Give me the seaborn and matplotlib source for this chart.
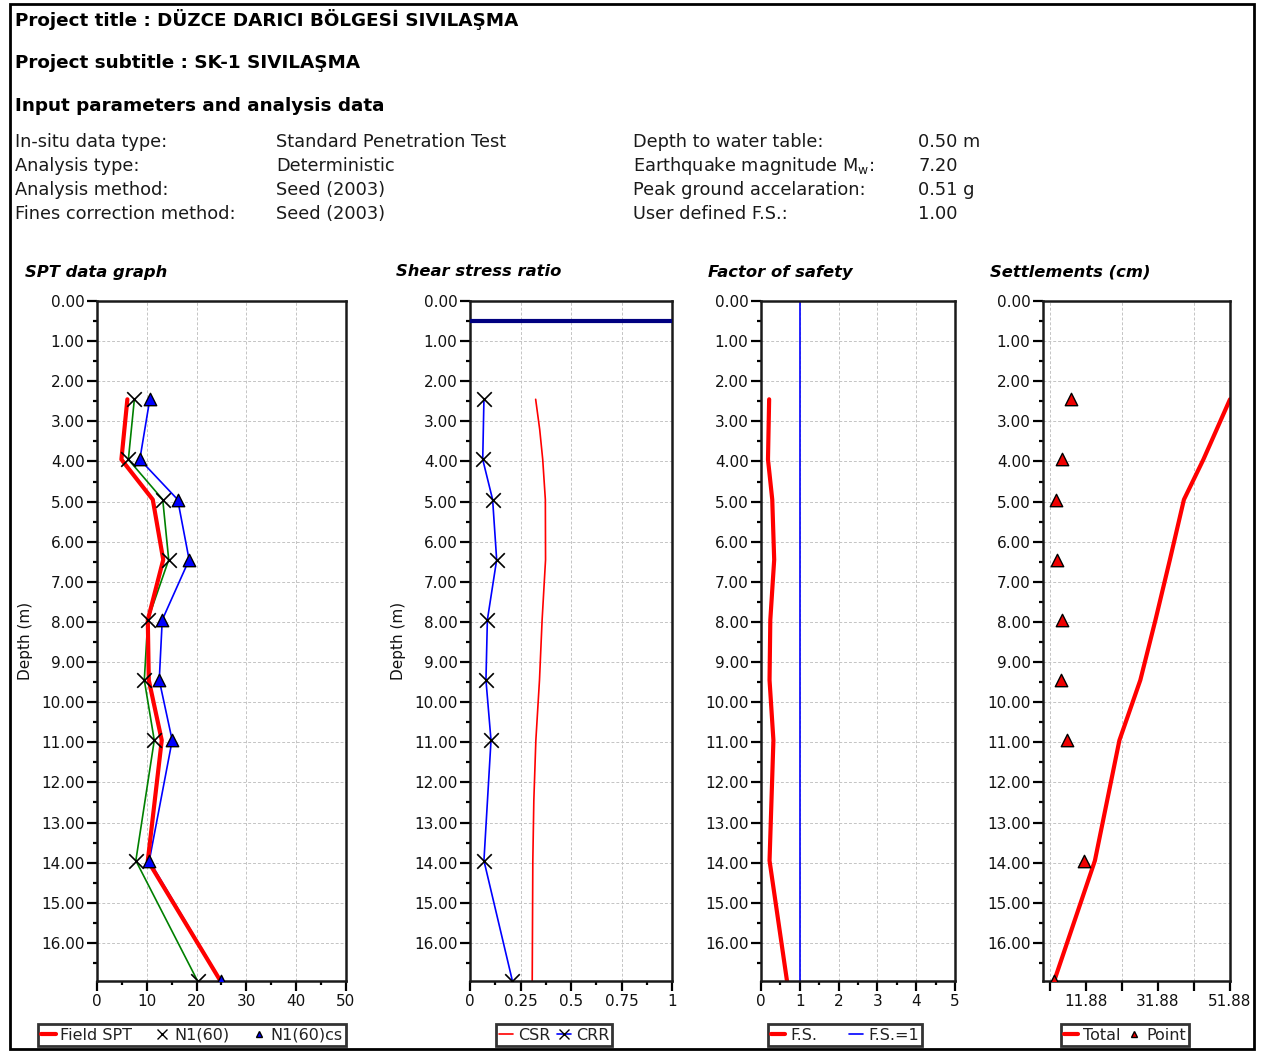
import matplotlib
matplotlib.use("Agg")
import matplotlib.pyplot as plt
from matplotlib.lines import Line2D
from matplotlib.patches import Rectangle
from matplotlib.ticker import MultipleLocator, FixedLocator
import seaborn as sns
import pandas as pd

W, H = 1268, 1051

# SPT test depths (m)
depth = [2.45, 3.95, 4.95, 6.45, 7.95, 9.45, 10.95, 13.95, 16.95]
depth_max = 16.95
water_depth = 0.50
fs_user = 1.00

# SPT data graph
field_spt = [6.1, 4.9, 11.2, 13.3, 10.2, 10.4, 13.0, 10.2, 24.8]
n1_60 = [7.5, 6.3, 13.2, 14.4, 10.2, 9.5, 11.5, 7.8, 20.2]
n1_60cs = [10.6, 8.6, 16.2, 18.5, 13.1, 12.5, 15.1, 10.5, 24.9]

# Shear stress ratio
csr_depth = [2.45, 3.2, 3.95, 4.95, 6.45, 7.95, 9.45, 10.95, 12.45, 13.95, 16.95]
csr = [0.325, 0.345, 0.360, 0.373, 0.374, 0.357, 0.344, 0.326, 0.316, 0.311, 0.308]
crr = [0.069, 0.063, 0.112, 0.132, 0.086, 0.079, 0.104, 0.069, 0.210]

# Factor of safety
fs = [0.21, 0.18, 0.29, 0.34, 0.24, 0.22, 0.32, 0.22, 0.67]

# Settlements (cm)
settle_total = [51.88, 44.5, 39.1, 35.2, 31.2, 27.0, 21.2, 14.4, 3.1]
settle_point = [7.7, 5.2, 3.7, 4.0, 5.2, 5.1, 6.6, 11.4, 3.1]

info_left = [("In-situ data type:", "Standard Penetration Test"),
             ("Analysis type:", "Deterministic"),
             ("Analysis method:", "Seed (2003)"),
             ("Fines correction method:", "Seed (2003)")]
info_right = [("Depth to water table:", "0.50 m"),
              (r"Earthquake magnitude M$_\mathregular{w}$:", "7.20"),
              ("Peak ground accelaration:", "0.51 g"),
              ("User defined F.S.:", "1.00")]

spt_df = pd.DataFrame({"depth": depth, "field": field_spt, "n160": n1_60,
                       "n160cs": n1_60cs, "crr": crr, "fs": fs,
                       "total": settle_total, "point": settle_point})
csr_df = pd.DataFrame({"depth": csr_depth, "csr": csr})

sns.set_style("white")
plt.rcParams["font.family"] = ["DejaVu Sans"]
plt.rcParams["mathtext.fontset"] = "dejavusans"

fig = plt.figure(figsize=(W / 100, H / 100), dpi=100)


def fx(px):
    return px / W


def fy(py):
    return 1 - py / H


def make_axes(left, right, top=301, bottom=981):
    return fig.add_axes([fx(left), fy(bottom), (right - left) / W, (bottom - top) / H])


def style_depth(ax, xlim):
    ax.set_xlim(*xlim)
    ax.set_ylim(depth_max, 0)
    ax.yaxis.set_major_locator(MultipleLocator(1))
    ax.yaxis.set_minor_locator(MultipleLocator(0.5))
    ax.yaxis.set_major_formatter(lambda v, p: f"{v:.2f}")
    ax.tick_params(axis="both", which="both", left=True, bottom=True, top=False, right=False)
    ax.tick_params(axis="both", which="major", direction="out", length=7, width=1.6,
                   labelsize=11, color="black", labelcolor="#111111", pad=2)
    ax.tick_params(axis="both", which="minor", direction="out", length=3, width=1.6,
                   color="black")
    ax.grid(True, axis="y", which="major", color="#c4c4c4", linestyle=(0, (3, 2)), linewidth=0.7)
    for s in ax.spines.values():
        s.set_color("#1a1a1a")
        s.set_linewidth(1.8)
    ax.set_xlabel("")
    ax.set_ylabel("")


def add_legend(ax, handles, labels, cx, ncol, spacing=1.0):
    leg = ax.legend(handles, labels, loc="center", bbox_to_anchor=(fx(cx), fy(1035)),
                    bbox_transform=fig.transFigure, ncol=ncol, frameon=True, fancybox=False,
                    edgecolor="black", fontsize=11.5, handlelength=0.9, handletextpad=0.3,
                    columnspacing=spacing, borderpad=0.2, borderaxespad=0)
    leg.get_frame().set_linewidth(2)
    for t in leg.get_texts():
        t.set_color("#222222")


# header
fig.text(fx(15), fy(20), "Project title : DÜZCE DARICI BÖLGESİ SIVILAŞMA",
         fontsize=13.2, fontweight="bold", va="center", color="black")
fig.text(fx(15), fy(63), "Project subtitle : SK-1 SIVILAŞMA",
         fontsize=13.2, fontweight="bold", va="center", color="black")
fig.text(fx(15), fy(106), "Input parameters and analysis data",
         fontsize=13.2, fontweight="bold", va="center", color="black")
for i, (k, v) in enumerate(info_left):
    fig.text(fx(15), fy(142 + 24 * i), k, fontsize=12.8, va="center", color="#1a1a1a")
    fig.text(fx(276), fy(142 + 24 * i), v, fontsize=12.8, va="center", color="#1a1a1a")
for i, (k, v) in enumerate(info_right):
    fig.text(fx(633), fy(142 + 24 * i), k, fontsize=12.8, va="center", color="#1a1a1a")
    fig.text(fx(918), fy(142 + 24 * i), v, fontsize=12.8, va="center", color="#1a1a1a")

titles = [(25, "SPT data graph"), (396, "Shear stress ratio"),
          (708, "Factor of safety"), (990, "Settlements (cm)")]
for x, t in titles:
    fig.text(fx(x), fy(272), t, fontsize=11.8, fontweight="bold", fontstyle="italic",
             va="center", color="black")

# SPT data graph
ax1 = make_axes(97, 346)
sns.lineplot(data=spt_df, x="n160", y="depth", sort=False, estimator=None,
             color="#008000", lw=1.2, ax=ax1)
sns.lineplot(data=spt_df, x="n160cs", y="depth", sort=False, estimator=None,
             color="#0000ff", lw=1.2, ax=ax1)
sns.lineplot(data=spt_df, x="field", y="depth", sort=False, estimator=None,
             color="#ff0000", lw=3, ax=ax1)
sns.scatterplot(data=spt_df, x="n160", y="depth", marker="x", color="black",
                s=110, linewidth=1.2, ax=ax1, zorder=4)
sns.scatterplot(data=spt_df, x="n160cs", y="depth", marker="^", color="#0000ff",
                edgecolor="black", s=80, linewidth=1, ax=ax1, zorder=4)
style_depth(ax1, (0, 50))
ax1.xaxis.set_major_locator(MultipleLocator(10))
ax1.xaxis.set_minor_locator(MultipleLocator(5))
ax1.grid(True, axis="x", which="major", color="#c4c4c4", linestyle=(0, (3, 2)), linewidth=0.7)
ax1.set_ylabel("Depth (m)", fontsize=11, color="#111111", labelpad=6)
add_legend(ax1,
           [Line2D([], [], color="#ff0000", lw=3),
            Line2D([], [], lw=0, marker="x", color="black", ms=7),
            Line2D([], [], lw=0, marker="^", color="#0000ff", mec="black", ms=5)],
           ["Field SPT", "N1(60)", "N1(60)cs"], 192, 3, spacing=1.4)

# Shear stress ratio
ax2 = make_axes(470, 672)
sns.lineplot(data=csr_df, x="csr", y="depth", sort=False, estimator=None,
             color="#ff0000", lw=1.2, ax=ax2)
sns.lineplot(data=spt_df, x="crr", y="depth", sort=False, estimator=None,
             color="#0000ff", lw=1.2, ax=ax2)
sns.scatterplot(data=spt_df, x="crr", y="depth", marker="x", color="black",
                s=110, linewidth=1.2, ax=ax2, zorder=4)
ax2.axhline(water_depth, color="#000080", lw=3, zorder=5)
style_depth(ax2, (0, 1))
ax2.xaxis.set_major_locator(MultipleLocator(0.25))
ax2.xaxis.set_minor_locator(MultipleLocator(0.125))
ax2.xaxis.set_major_formatter(lambda v, p: f"{v:g}")
ax2.grid(True, axis="x", which="major", color="#c4c4c4", linestyle=(0, (3, 2)), linewidth=0.7)
ax2.set_ylabel("Depth (m)", fontsize=11, color="#111111", labelpad=6)
add_legend(ax2,
           [Line2D([], [], color="#ff0000", lw=1.2),
            Line2D([], [], color="#0000ff", lw=1.2, marker="x", mec="black", ms=7)],
           ["CSR", "CRR"], 554, 2, spacing=0.4)

# Factor of safety
ax3 = make_axes(761, 955)
sns.lineplot(data=spt_df, x="fs", y="depth", sort=False, estimator=None,
             color="#ff0000", lw=3, ax=ax3)
ax3.axvline(fs_user, color="#0000ff", lw=1.2)
style_depth(ax3, (0, 5))
ax3.xaxis.set_major_locator(MultipleLocator(1))
ax3.xaxis.set_minor_locator(MultipleLocator(0.5))
ax3.grid(True, axis="x", which="major", color="#c4c4c4", linestyle=(0, (3, 2)), linewidth=0.7)
add_legend(ax3,
           [Line2D([], [], color="#ff0000", lw=3),
            Line2D([], [], color="#0000ff", lw=1.2)],
           ["F.S.", "F.S.=1"], 845, 2, spacing=2.0)

# Settlements
ax4 = make_axes(1043, 1230)
sns.lineplot(data=spt_df, x="total", y="depth", sort=False, estimator=None,
             color="#ff0000", lw=3, ax=ax4)
sns.scatterplot(data=spt_df, x="point", y="depth", marker="^", color="#ee0000",
                edgecolor="black", s=80, linewidth=1, ax=ax4, zorder=4)
style_depth(ax4, (0, 51.88))
ax4.xaxis.set_major_locator(FixedLocator([11.88, 31.88, 51.88]))
ax4.xaxis.set_minor_locator(FixedLocator([1.88, 21.88, 41.88]))
ax4.xaxis.set_major_formatter(lambda v, p: f"{v:.2f}")
ax4.tick_params(axis="x", which="minor", length=7)
ax4.grid(True, axis="x", which="minor", color="#c4c4c4", linestyle=(0, (3, 2)), linewidth=0.7)
add_legend(ax4,
           [Line2D([], [], color="#ff0000", lw=3),
            Line2D([], [], lw=0, marker="^", color="#ee0000", mec="black", ms=5)],
           ["Total", "Point"], 1125, 2, spacing=0.4)

fig.add_artist(Rectangle((fx(10), fy(1049)), (1254 - 10) / W, (1049 - 4) / H,
                         transform=fig.transFigure, fill=False, edgecolor="black", lw=2))

fig.savefig("out.png", dpi=100)
